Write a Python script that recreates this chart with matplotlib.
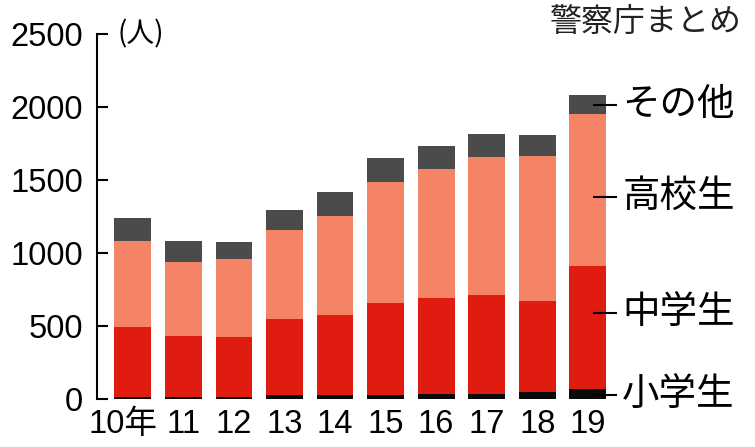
import matplotlib.pyplot as plt
from matplotlib.transforms import ScaledTranslation

# 児童の被害者数（警察庁まとめ）
years = ["10年", "11", "12", "13", "14", "15", "16", "17", "18", "19"]
shogaku = [13, 12, 12, 28, 30, 30, 32, 32, 48, 66]
chugaku = [480, 420, 413, 520, 545, 628, 660, 680, 625, 845]
koko = [589, 506, 534, 610, 678, 828, 886, 943, 991, 1041]
sonota = [157, 147, 117, 135, 168, 166, 158, 158, 147, 130]

series = ["小学生", "中学生", "高校生", "その他"]
colors = ["#0a0a0a", "#e01b10", "#f58467", "#4b4b4b"]
label_y = [27, 590, 1385, 2015]

num_font = ["Liberation Sans", "Noto Sans CJK JP"]
jp_font = ["Noto Sans CJK JP", "DejaVu Sans"]

fig = plt.figure(figsize=(7.55, 4.47), dpi=100)
ax = fig.add_axes([97 / 755, 48 / 447, (613 - 97) / 755, 365 / 447])

x = list(range(len(years)))
bottom = [0] * len(years)
for vals, c in zip([shogaku, chugaku, koko, sonota], colors):
    ax.bar(x, vals, bottom=bottom, width=0.73, color=c, linewidth=0)
    bottom = [b + v for b, v in zip(bottom, vals)]

ax.set_xlim(-0.71, 9.5)
ax.set_ylim(0, 2500)
ax.set_yticks([0, 500, 1000, 1500, 2000, 2500])
ax.set_yticklabels(["0", "500", "1000", "1500", "2000", "2500"],
                   family=num_font, fontsize=23.5)
ax.set_xticks(x)
ax.set_xticklabels(years, family=num_font, fontsize=23.5)
ax.tick_params(axis="y", direction="in", length=8, width=1.5, pad=10)
ax.tick_params(axis="x", length=0, pad=7)

# 「10年」は少し左へ
lbl = ax.get_xticklabels()[0]
lbl.set_transform(lbl.get_transform() + ScaledTranslation(-10 / 100, 0, fig.dpi_scale_trans))

for s in ["top", "right", "bottom"]:
    ax.spines[s].set_visible(False)
ax.spines["left"].set_linewidth(1.5)

# 右側の凡例ラベル
for name, yv in zip(series, label_y):
    ax.plot([9.1, 9.57], [yv, yv], color="black", lw=1.5, clip_on=False,
            solid_capstyle="butt")
    ax.text(9.68, yv, name, family=jp_font, fontsize=27, va="center",
            ha="left", clip_on=False)

fig.text(117 / 755, 1 - 34 / 447, "(人)", family=jp_font, fontsize=20,
         va="center", ha="left")
fig.text(742 / 755, 1 - 22 / 447, "警察庁まとめ", family=jp_font,
         fontsize=23, va="center", ha="right", color="#222222")

fig.savefig("out.png", dpi=100)
